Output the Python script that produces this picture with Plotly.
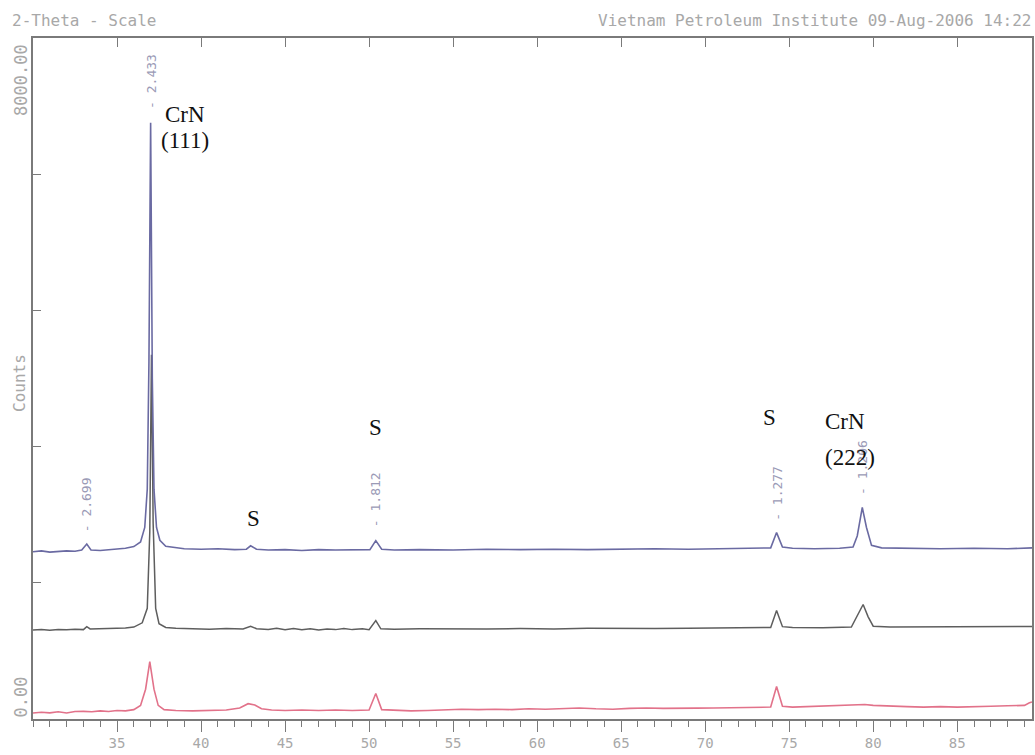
import plotly.graph_objects as go

# ---------------- data ----------------
blue_x = [30.0, 30.5, 31.0, 31.5, 32.0, 32.5, 32.9, 33.2, 33.45, 34.0, 34.5, 35.0, 35.5, 36.0,
          36.4, 36.65, 36.8, 36.9, 37.0, 37.1, 37.2, 37.35, 37.55, 37.9, 38.5, 39.0, 40.0,
          41.0, 42.0, 42.7, 42.95, 43.3, 44.0, 45.0, 46.0, 47.0, 48.0, 49.0, 50.05, 50.4,
          50.75, 51.5, 53.0, 55.0, 57.0, 59.0, 61.0, 63.0, 65.0, 67.0, 69.0, 71.0, 73.0,
          73.9, 74.25, 74.6, 75.2, 76.5, 78.0, 78.8, 79.05, 79.35, 79.6, 79.9, 80.5, 82.0,
          84.0, 86.0, 88.0, 89.45]
blue_y = [1965, 1975, 1960, 1970, 1975, 1970, 1985, 2055, 1985, 1980, 1990, 1995, 2005, 2025,
          2080, 2250, 2700, 4200, 7005, 4000, 2700, 2250, 2100, 2030, 2010, 2000, 1995,
          2000, 1990, 1995, 2035, 1995, 1985, 1990, 1980, 1990, 1985, 1990, 1990, 2095,
          1995, 1985, 1990, 1985, 1995, 1990, 1995, 1990, 1995, 2000, 1995, 2000, 2005,
          2010, 2190, 2020, 2005, 2000, 2005, 2020, 2150, 2485, 2250, 2040, 2010, 2005,
          2000, 2005, 2000, 2010]

gray_x = [30.0, 30.5, 31.0, 31.5, 32.0, 32.5, 33.0, 33.2, 33.4, 34.0, 34.5, 35.0, 35.5, 36.0,
          36.5, 36.8, 36.95, 37.05, 37.15, 37.3, 37.5, 37.9, 38.5, 39.5, 40.5, 41.5, 42.5,
          42.95, 43.3, 44.0, 44.5, 45.0, 45.5, 46.0, 46.5, 47.0, 47.5, 48.0, 48.5, 49.0,
          49.6, 50.0, 50.4, 50.7, 51.5, 53.0, 55.0, 57.0, 59.0, 61.0, 63.0, 65.0, 67.0,
          69.0, 71.0, 73.0, 73.9, 74.25, 74.6, 75.2, 77.0, 78.7, 79.05, 79.4, 79.7, 80.0,
          81.0, 83.0, 85.0, 87.0, 89.45]
gray_y = [1045, 1050, 1042, 1050, 1048, 1055, 1050, 1085, 1058, 1060, 1065, 1060, 1070, 1080,
          1130, 1300, 2200, 4280, 2300, 1300, 1120, 1075, 1065, 1060, 1055, 1062, 1058,
          1090, 1060, 1052, 1065, 1050, 1062, 1048, 1060, 1045, 1058, 1050, 1062, 1050,
          1060, 1050, 1157, 1060, 1055, 1060, 1055, 1058, 1062, 1058, 1065, 1060, 1063,
          1065, 1068, 1070, 1075, 1275, 1085, 1075, 1072, 1080, 1220, 1345, 1200, 1090,
          1080, 1082, 1085, 1085, 1087]

red_x = [30.0, 30.5, 31.0, 31.5, 32.0, 32.5, 33.0, 33.5, 34.0, 34.5, 35.0, 35.5, 36.0, 36.4,
         36.7, 36.95, 37.2, 37.45, 37.8, 38.5, 39.5, 40.5, 41.5, 42.3, 42.8, 43.2, 43.6,
         44.2, 45.0, 46.0, 47.0, 48.0, 49.0, 50.0, 50.4, 50.75, 51.5, 52.5, 53.5, 54.5,
         55.5, 56.5, 57.5, 58.5, 59.5, 60.5, 61.5, 62.5, 63.5, 64.5, 65.5, 66.5, 67.5,
         68.5, 69.5, 70.5, 71.5, 73.0, 73.9, 74.25, 74.6, 75.2, 76.0, 77.0, 78.0, 79.0,
         79.5, 80.0, 81.0, 82.0, 83.0, 84.0, 85.0, 86.0, 87.0, 88.0, 89.0, 89.3, 89.45]
red_y = [70, 80, 72, 85, 70, 88, 90, 85, 95, 88, 100, 95, 110, 160,
         350, 675, 350, 160, 110, 100, 95, 100, 105, 130, 180, 165, 120,
         105, 100, 105, 100, 105, 100, 105, 300, 110, 100, 95, 100, 105,
         115, 110, 115, 110, 120, 115, 120, 130, 120, 115, 125, 130, 125,
         130, 128, 130, 132, 135, 140, 382, 150, 140, 145, 150, 155, 165,
         170, 160, 150, 145, 140, 145, 140, 148, 150, 155, 160, 190, 200]

x_range = [30, 89.45]
y_range = [0, 8000]

# peak d-spacing labels: (2-theta, counts, text)
d_pos = [33.2, 37.05, 50.4, 74.3, 79.4]
d_cnt = [2520, 7490, 2580, 2650, 2950]
d_txt = ["- 2.699", "- 2.433", "- 1.812", "- 1.277", "- 1.206"]

# phase labels
ph_pos = [39.05, 39.05, 43.15, 50.36, 73.81, 78.33, 78.63]
ph_cnt = [7105, 6800, 2350, 3430, 3540, 3490, 3075]
ph_txt = ["CrN", "(111)", "S", "S", "S", "CrN", "(222)"]

x_ticks = [35, 40, 45, 50, 55, 60, 65, 70, 75, 80, 85]

# ---------------- figure ----------------
W, H = 1035, 755
L, R, T, B = 33, 3, 38, 36
def px_x(px):
    return (px - L) / (W - L - R)
def px_y(py):
    return 1 - (py - T) / (H - T - B)

frame = "#7a7a7a"
lab = "#a8a8a8"
mono = "DejaVu Sans Mono"

fig = go.Figure()
fig.add_trace(go.Scatter(x=red_x, y=red_y, mode="lines",
                         line=dict(color="#e2728a", width=1.6), showlegend=False))
fig.add_trace(go.Scatter(x=gray_x, y=gray_y, mode="lines",
                         line=dict(color="#5e5e5e", width=1.5), showlegend=False))
fig.add_trace(go.Scatter(x=blue_x, y=blue_y, mode="lines",
                         line=dict(color="#6a6aa2", width=1.6), showlegend=False))
fig.add_trace(go.Scatter(x=x_range, y=[None, None], xaxis="x2", mode="lines",
                         showlegend=False, hoverinfo="skip"))

ann = []
for x, y, t in zip(d_pos, d_cnt, d_txt):
    ann.append(dict(x=x, y=y, text=t, textangle=-90, showarrow=False,
                    font=dict(family=mono, size=13, color="#9a9ab6"),
                    xanchor="center", yanchor="middle"))
for x, y, t in zip(ph_pos, ph_cnt, ph_txt):
    ann.append(dict(x=x, y=y, text=t, showarrow=False,
                    font=dict(family="Liberation Serif", size=23, color="#111111"),
                    xanchor="center", yanchor="middle"))

ann.append(dict(xref="paper", yref="paper", x=px_x(10), y=px_y(20), text="2-Theta - Scale",
                showarrow=False, xanchor="left", yanchor="middle",
                font=dict(family=mono, size=16, color=lab)))
ann.append(dict(xref="paper", yref="paper", x=px_x(1033), y=px_y(20),
                text="Vietnam Petroleum Institute 09-Aug-2006 14:22",
                showarrow=False, xanchor="right", yanchor="middle",
                font=dict(family=mono, size=16, color=lab)))
ann.append(dict(xref="paper", yref="paper", x=px_x(21), y=px_y(42), text="8000.00",
                textangle=-90, showarrow=False, xanchor="center", yanchor="top",
                font=dict(family=mono, size=17, color=lab)))
ann.append(dict(xref="paper", yref="paper", x=px_x(20), y=px_y(720), text="0.00",
                textangle=-90, showarrow=False, xanchor="center", yanchor="bottom",
                font=dict(family=mono, size=17, color=lab)))
ann.append(dict(xref="paper", yref="paper", x=px_x(19), y=px_y(383), text="Counts",
                textangle=-90, showarrow=False, xanchor="center", yanchor="middle",
                font=dict(family=mono, size=16, color=lab)))

fig.update_layout(
    width=W, height=H,
    margin=dict(l=L, r=R, t=T, b=B, autoexpand=False),
    paper_bgcolor="white", plot_bgcolor="white",
    annotations=ann,
    xaxis=dict(range=x_range, showgrid=False, zeroline=False, automargin=False,
               showline=True, linecolor=frame, linewidth=1.5, mirror=True,
               tickmode="array", tickvals=x_ticks, ticks="outside", ticklen=11,
               tickwidth=1.2, tickcolor=frame, ticklabelstandoff=-1,
               minor=dict(dtick=1, ticks="outside", ticklen=6, tickcolor=frame, tickwidth=1.2),
               tickfont=dict(family=mono, size=14, color=lab)),
    xaxis2=dict(range=x_range, overlaying="x", side="top", showgrid=False, zeroline=False,
                tickmode="array", tickvals=x_ticks, ticks="inside", ticklen=9,
                tickwidth=1.2, tickcolor=frame, showticklabels=False, showline=False),
    yaxis=dict(range=y_range, showgrid=False, zeroline=False, automargin=False,
               showline=True, linecolor=frame, linewidth=1.5, mirror=True,
               tickmode="array", tickvals=[1600, 3200, 4800, 6400], ticks="inside",
               ticklen=8, tickwidth=1.2, tickcolor=frame, showticklabels=False),
)

fig.write_html("out.html", config={"displayModeBar": False},
               post_script="document.body.style.margin='0px';document.body.style.overflow='hidden';")
